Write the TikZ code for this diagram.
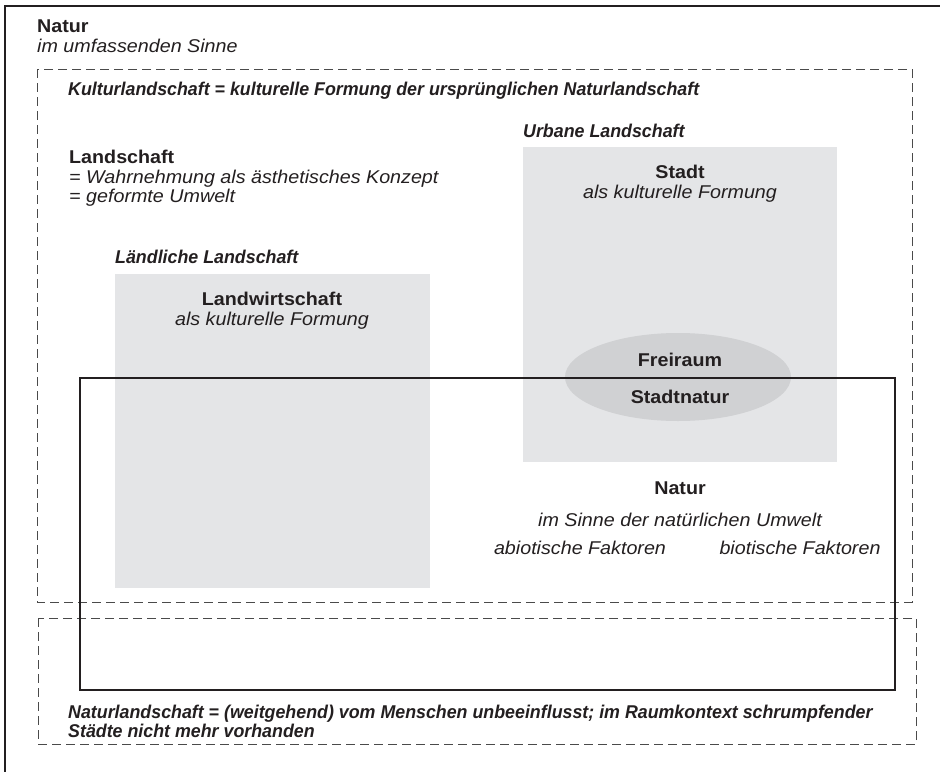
\documentclass[tikz,border=0pt]{standalone}
\usepackage{fontspec}
\setmainfont{Liberation Sans}[FakeStretch=1.065]
\newfontfamily\bifont{Liberation Sans}[FakeStretch=0.963]
\usetikzlibrary{shapes.geometric}
\definecolor{framec}{HTML}{231F20}
\definecolor{boxgray}{HTML}{E4E5E7}
\definecolor{ellgray}{HTML}{D0D1D3}
\definecolor{dashc}{HTML}{4A4A4A}
\begin{document}
\begin{tikzpicture}[x=1pt,y=-1pt,
  txt/.style={inner sep=0pt,text=framec},
  bl/.style={txt,anchor=base west},
  bc/.style={txt,anchor=base},
  fb/.style={font=\fontsize{18.5}{19.5}\selectfont\bfseries},
  fi/.style={font=\fontsize{18.5}{19.5}\selectfont\itshape},
  fbi/.style={font=\fontsize{18.5}{19.5}\selectfont\bifont\bfseries\itshape},
  dbox/.style={draw=dashc,line width=1pt,dash pattern=on 9pt off 5pt},
]
\useasboundingbox (0,0) rectangle (940,772);
\fill[white] (0,0) rectangle (940,772);
% outer frame (cropped)
\coordinate (ot) at (940,6);
\coordinate (oc) at (5,6);
\coordinate (ob) at (5,772);
\draw[framec,line width=2pt] (ot) -- (oc) -- (ob);
% dashed boxes
\draw[dbox] (37,69) rectangle (912,602);
\draw[dbox] (38,618) rectangle (916,744);
% gray boxes
\fill[boxgray] (115,274) rectangle (430,588);
\fill[boxgray] (523,147) rectangle (837,462);
\node[ellipse,fill=ellgray,minimum width=226pt,minimum height=88pt,inner sep=0pt] (ell) at (678,377) {};
% solid frame
\draw[framec,line width=2.2pt] (80,378) rectangle (895,690);
% texts
\node[bl,fb] (t1) at (37,32) {Natur};
\node[bl,fi] (t2) at (37,52) {im umfassenden Sinne};
\node[bl,fbi] (t3) at (68,95) {Kulturlandschaft = kulturelle Formung der ursprünglichen Naturlandschaft};
\node[bl,fb] (t4) at (69,163) {Landschaft};
\node[bl,fi] (t5) at (69,183) {= Wahrnehmung als ästhetisches Konzept};
\node[bl,fi] (t6) at (69,202) {= geformte Umwelt};
\node[bl,fbi] (t7) at (115,263) {Ländliche Landschaft};
\node[bc,fb] (t8) at (272,305) {Landwirtschaft};
\node[bc,fi] (t9) at (272,325) {als kulturelle Formung};
\node[bl,fbi] (t10) at (523,137) {Urbane Landschaft};
\node[bc,fb] (t11) at (680,178) {Stadt};
\node[bc,fi] (t12) at (680,198) {als kulturelle Formung};
\node[bc,fb] (t13) at (680,366) {Freiraum};
\node[bc,fb] (t14) at (680,403) {Stadtnatur};
\node[bc,fb] (t15) at (680,494) {Natur};
\node[bc,fi] (t16) at (680,526) {im Sinne der natürlichen Umwelt};
\node[bc,fi] (t17) at (580,554) {abiotische Faktoren};
\node[bc,fi] (t18) at (800,554) {biotische Faktoren};
\node[bl,fbi] (t19) at (68,718) {Naturlandschaft = (weitgehend) vom Menschen unbeeinflusst; im Raumkontext schrumpfender};
\node[bl,fbi] (t20) at (68,737) {Städte nicht mehr vorhanden};
\end{tikzpicture}
\end{document}
